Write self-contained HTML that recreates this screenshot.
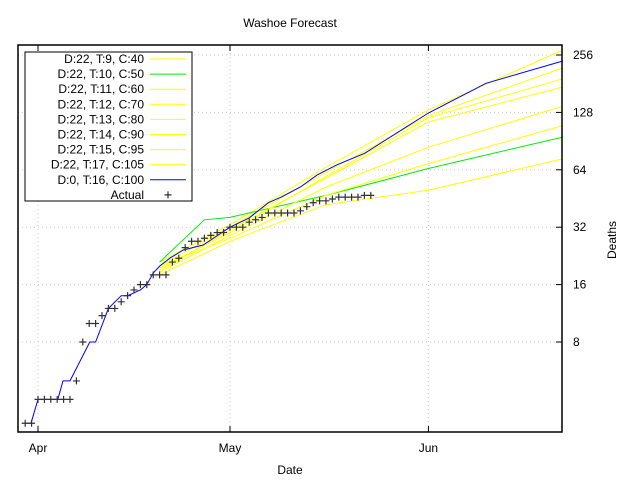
<!DOCTYPE html>
<html><head><meta charset="utf-8"><style>
body{margin:0;background:#fff;}
svg text{font-family:"Liberation Sans","DejaVu Sans",sans-serif;font-size:12px;fill:#000;}
</style></head><body>
<svg id="chart" width="640" height="480" xmlns="http://www.w3.org/2000/svg">
<rect width="640" height="480" fill="#fff"/>
<text x="290" y="27" text-anchor="middle">Washoe Forecast</text>
<text x="290" y="474" text-anchor="middle">Date</text>
<text x="616" y="240" text-anchor="middle" transform="rotate(-90 616 240)">Deaths</text>
<g id="grid"></g>
<g id="series"></g>
<g id="actual"></g>
<rect x="18" y="45" width="544" height="387" fill="none" stroke="#000" stroke-width="1.5"/>
<g id="ticks"></g>
<g id="legend"></g>
</svg>
<script>
const yTickVals=[8,16,32,64,128,256];
const xTickLabels=["Apr","May","Jun"];
const xTickDays=[0,30,61];
const actualDays=[-2,-1,0,1,2,3,4,5,6,7,8,9,10,11,12,13,14,15,16,17,18,19,20,21,22,23,24,25,26,27,28,29,30,31,32,33,34,35,36,37,38,39,40,41,42,43,44,45,46,47,48,49,50,51,52];
const actualVals=[3,3,4,4,4,4,4,4,5,8,10,10,11,12,12,13,14,15,16,16,18,18,18,21,22,25,27,27,28,29,30,30,32,32,32,34,35,36,38,38,38,38,38,39,41,43,44,44,45,46,46,46,46,47,47];
const seriesNames=["D:22, T:9, C:40","D:22, T:10, C:50","D:22, T:11, C:60","D:22, T:12, C:70","D:22, T:13, C:80","D:22, T:14, C:90","D:22, T:15, C:95","D:22, T:17, C:105","D:0, T:16, C:100"];
const seriesColors=["#ffff00","#00ee00","#ffff00","#ffff00","#ffff00","#ffff00","#ffff00","#ffff00","#0000ff"];
const fcDays=[19,30,45,61,82];
const s9=[21,33,66,132,272];
const s11=[20,32,62,123,219];
const s12=[19.5,30,59,120,192];
const s13=[19,31,58,114,174];
const s14=[18.6,29,52,84,138];
const s15=[20,28,47,69,109];
const s17=[18,27,42,50,73];
const greenDays=[19,26,30,45,61,82];
const greenVals=[21,35,36,47,65,95];
const blueDays=[-2,-1.1,0,3.1,3.9,5,8.1,9,11,13,14,16,17,18,19,20.6,22.7,25.8,30,33,36,38,41,43.6,46.7,51,61,70,82];
const blueVals=[3,3,4,4,5,5,8,8,12,14,14,15,16,18.4,20,22,24.3,25.8,32,35.8,43,46,52,60,68,78,127,182,238];

const NS="http://www.w3.org/2000/svg";
function X(d){return 38+6.4*d;}
function Y(v){return 342-57.4*(Math.log2(v)-3);}
function mk(tag,attrs,parent){const e=document.createElementNS(NS,tag);for(const k in attrs)e.setAttribute(k,attrs[k]);parent.appendChild(e);return e;}
const grid=document.getElementById('grid'),ticks=document.getElementById('ticks');
yTickVals.forEach(v=>{
  const gl=mk('line',{x1:18,x2:562,y1:Y(v),y2:Y(v),stroke:'#ccc','stroke-dasharray':'1,3'},grid);
  
  
  const t=mk('line',{x1:556,x2:562,y1:Y(v),y2:Y(v),stroke:'#000'},ticks);
  
  
  const tx=mk('text',{x:573,y:Y(v)+4},ticks);tx.textContent=v;
  
  
});
xTickDays.forEach((d,i)=>{
  const gl=mk('line',{x1:X(d),x2:X(d),y1:45,y2:432,stroke:'#ccc','stroke-dasharray':'1,3'},grid);
  
  
  const t=mk('line',{x1:X(d),x2:X(d),y1:426,y2:432,stroke:'#000'},ticks);
  
  
  const t2=mk('line',{x1:X(d),x2:X(d),y1:45,y2:51,stroke:'#000'},ticks);
  
  
  const tx=mk('text',{x:X(d),y:452,'text-anchor':'middle'},ticks);tx.textContent=xTickLabels[i];
  
  
});
const ser=document.getElementById('series');
const lines=[[fcDays,s9],[greenDays,greenVals],[fcDays,s11],[fcDays,s12],[fcDays,s13],[fcDays,s14],[fcDays,s15],[fcDays,s17],[blueDays,blueVals]];
lines.forEach((l,i)=>{
  const pts=l[0].map((d,j)=>X(d).toFixed(1)+','+Y(l[1][j]).toFixed(1)).join(' ');
  const p=mk('polyline',{points:pts,fill:'none',stroke:seriesColors[i],'stroke-width':1},ser);
  
  
});
const act=document.getElementById('actual');
actualDays.forEach((d,i)=>{
  const x=X(d),y=Y(actualVals[i]);
  const p=mk('path',{d:`M${x-3.5},${y}H${x+3.5}M${x},${y-3.5}V${y+3.5}`,stroke:'#333','stroke-width':1.2},act);
  
  
});
const lg=document.getElementById('legend');
const box=mk('rect',{x:25,y:52,width:167,height:149,fill:'#fff',stroke:'#000'},lg);


const names=seriesNames.concat(["Actual"]);
names.forEach((n,i)=>{
  const y=59+15.1*i;
  const t=mk('text',{x:144,y:y+4,'text-anchor':'end'},lg);t.textContent=n;
  
  
  if(i<seriesNames.length){
    const l=mk('line',{x1:150,x2:186,y1:y,y2:y,stroke:seriesColors[i]},lg);
    
    
  }else{
    const p=mk('path',{d:`M164.5,${y}H171.5M168,${y-3.5}V${y+3.5}`,stroke:'#333','stroke-width':1.2},lg);
    
    
  }
});
</script>
</body></html>
